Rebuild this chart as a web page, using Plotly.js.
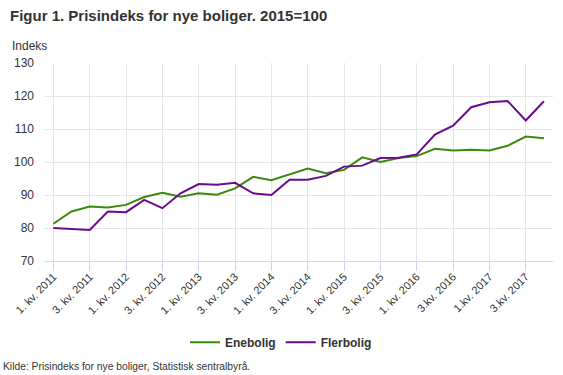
<!DOCTYPE html>
<html>
<head>
<meta charset="utf-8">
<script src="https://cdn.plot.ly/plotly-3.0.1.min.js"></script>
<style>
html,body{margin:0;padding:0;background:#fff;}
#chart{width:563px;height:375px;}
</style>
</head>
<body>
<div id="chart"></div>
<script>
var quarters = [
  "1. kv. 2011","2. kv. 2011","3. kv. 2011","4. kv. 2011",
  "1. kv. 2012","2. kv. 2012","3. kv. 2012","4. kv. 2012",
  "1. kv. 2013","2. kv. 2013","3. kv. 2013","4. kv. 2013",
  "1. kv. 2014","2. kv. 2014","3. kv. 2014","4. kv. 2014",
  "1. kv. 2015","2. kv. 2015","3. kv. 2015","4. kv. 2015",
  "1. kv. 2016","2. kv. 2016","3.kv. 2016","4.kv. 2016",
  "1.kv. 2017","2.kv. 2017","3.kv. 2017","4.kv. 2017"
];
var tickLabels = [
  "1. kv. 2011","3. kv. 2011","1. kv. 2012","3. kv. 2012","1. kv. 2013","3. kv. 2013",
  "1. kv. 2014","3. kv. 2014","1. kv. 2015","3. kv. 2015","1. kv. 2016","3.kv. 2016",
  "1.kv. 2017","3.kv. 2017"
];
var enebolig = [81.3,85.0,86.5,86.2,87.0,89.4,90.7,89.5,90.5,90.1,92.0,95.5,94.5,96.2,98.0,96.6,97.6,101.4,100.0,101.2,101.8,104.0,103.5,103.7,103.5,104.9,107.7,107.2];
var flerbolig = [80.0,79.7,79.4,85.0,84.8,88.5,86.0,90.5,93.3,93.1,93.7,90.5,90.0,94.6,94.6,95.8,98.6,98.9,101.2,101.3,102.3,108.3,111.0,116.6,118.1,118.5,112.6,118.4];
var seriesNames = ["Enebolig","Flerbolig"];
var colors = ["#3a8a0c","#6a0a8f"];

var FONT = "Liberation Sans, Arial, sans-serif";
var traces = [
  {x: quarters, y: enebolig, name: seriesNames[0], type: "scatter", mode: "lines",
   line: {color: colors[0], width: 2}, hoverinfo: "skip"},
  {x: quarters, y: flerbolig, name: seriesNames[1], type: "scatter", mode: "lines",
   line: {color: colors[1], width: 2}, hoverinfo: "skip"}
];
var layout = {
  width: 563, height: 375,
  margin: {l: 45, r: 10, t: 63, b: 114},
  paper_bgcolor: "#fff", plot_bgcolor: "#fff",
  font: {family: FONT, color: "#333"},
  title: {text: "Figur 1. Prisindeks for nye boliger. 2015=100",
    font: {family: FONT, size: 15, weight: "bold", color: "#333"},
    xref: "container", yref: "container", x: 10/563, xanchor: "left",
    y: 1 - 15.5/375, yanchor: "middle"},
  showlegend: true,
  legend: {orientation: "h", x: 0.4646, xanchor: "center", y: -0.41, yanchor: "middle",
    font: {family: FONT, size: 12, weight: "bold", color: "#333"},
    itemwidth: 30, traceorder: "normal"},
  xaxis: {
    type: "category", range: [-0.46, 27.5],
    tickmode: "array", tickvals: tickLabels.map(function(t, i){return quarters[i*2];}),
    ticktext: tickLabels,
    tickangle: -45, tickfont: {family: FONT, size: 11, color: "#333"},
    ticklabelstandoff: -5,
    showgrid: true, gridcolor: "#e3e6ef", gridwidth: 1,
    showline: true, linecolor: "#ccd6eb", linewidth: 1,
    ticks: "outside", ticklen: 9, tickcolor: "#ccd6eb", tickwidth: 1,
    zeroline: false, fixedrange: true
  },
  yaxis: {
    range: [70, 130], dtick: 10, tick0: 70,
    tickfont: {family: FONT, size: 12, color: "#333"},
    showgrid: true, gridcolor: "#e6e6e6", gridwidth: 1,
    showline: false, zeroline: false, ticks: "", ticklabelstandoff: 10,
    fixedrange: true
  },
  annotations: [
    {text: "Indeks", xref: "paper", yref: "paper", x: (10-45)/508, y: 1 + 17.3/197.7,
     xanchor: "left", yanchor: "middle", showarrow: false,
     font: {family: FONT, size: 12, color: "#333"}},
    {text: "Kilde: Prisindeks for nye boliger, Statistisk sentralbyrå.", xref: "paper", yref: "paper",
     x: (1-45)/508, y: -105/197.7, xanchor: "left", yanchor: "middle", showarrow: false,
     font: {family: FONT, size: 10.3, color: "#333"}}
  ]
};
Plotly.newPlot("chart", traces, layout, {displayModeBar: false, staticPlot: true});
</script>
</body>
</html>
